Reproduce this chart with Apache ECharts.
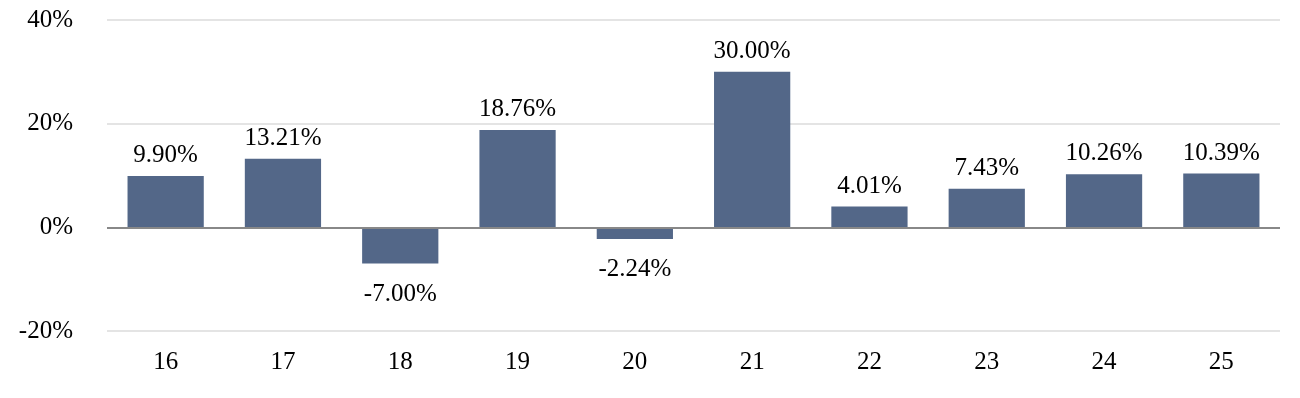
<!DOCTYPE html>
<html>
<head>
<meta charset="utf-8">
<script src="https://cdn.jsdelivr.net/npm/echarts@6/dist/echarts.min.js"></script>
<style>html,body{margin:0;padding:0;background:#fff}#c{width:1300px;height:398px}</style>
</head>
<body>
<div id="c"></div>
<script>
const categories = ['16','17','18','19','20','21','22','23','24','25'];
const values = [9.90, 13.21, -7.00, 18.76, -2.24, 30.00, 4.01, 7.43, 10.26, 10.39];
const yTicks = { min: -20, max: 40, interval: 20 };

const chart = echarts.init(document.getElementById('c'), null, {renderer: 'canvas'});
const font = '"Liberation Serif", "Times New Roman", serif';
chart.setOption({
  animation: false,
  grid: { left: 107, right: 20, top: 20, bottom: 67 },
  xAxis: {
    type: 'category',
    data: categories,
    axisLine: { show: false, onZero: false },
    axisTick: { show: false },
    axisLabel: { color: '#000', fontFamily: font, fontSize: 25, margin: 19 }
  },
  yAxis: {
    type: 'value',
    min: yTicks.min, max: yTicks.max, interval: yTicks.interval,
    axisLine: { show: false },
    axisTick: { show: false },
    splitLine: { lineStyle: { color: '#e4e4e4', width: 2 } },
    axisLabel: { color: '#000', fontFamily: font, fontSize: 25, margin: 34, formatter: v => v + '%' }
  },
  series: [{
    type: 'bar',
    data: values.map(v => v < 0 ? { value: v, label: { position: 'bottom', distance: 18 } } : v),
    barWidth: '65%',
    itemStyle: { color: '#536788' },
    label: {
      show: true,
      position: 'top',
      distance: 8,
      color: '#000', fontFamily: font, fontSize: 25,
      formatter: p => p.value.toFixed(2) + '%'
    },
    markLine: {
      silent: true,
      symbol: 'none',
      label: { show: false },
      lineStyle: { color: '#888', type: 'solid', width: 2 },
      data: [{ yAxis: 0 }]
    }
  }]
});
</script>
</body>
</html>
